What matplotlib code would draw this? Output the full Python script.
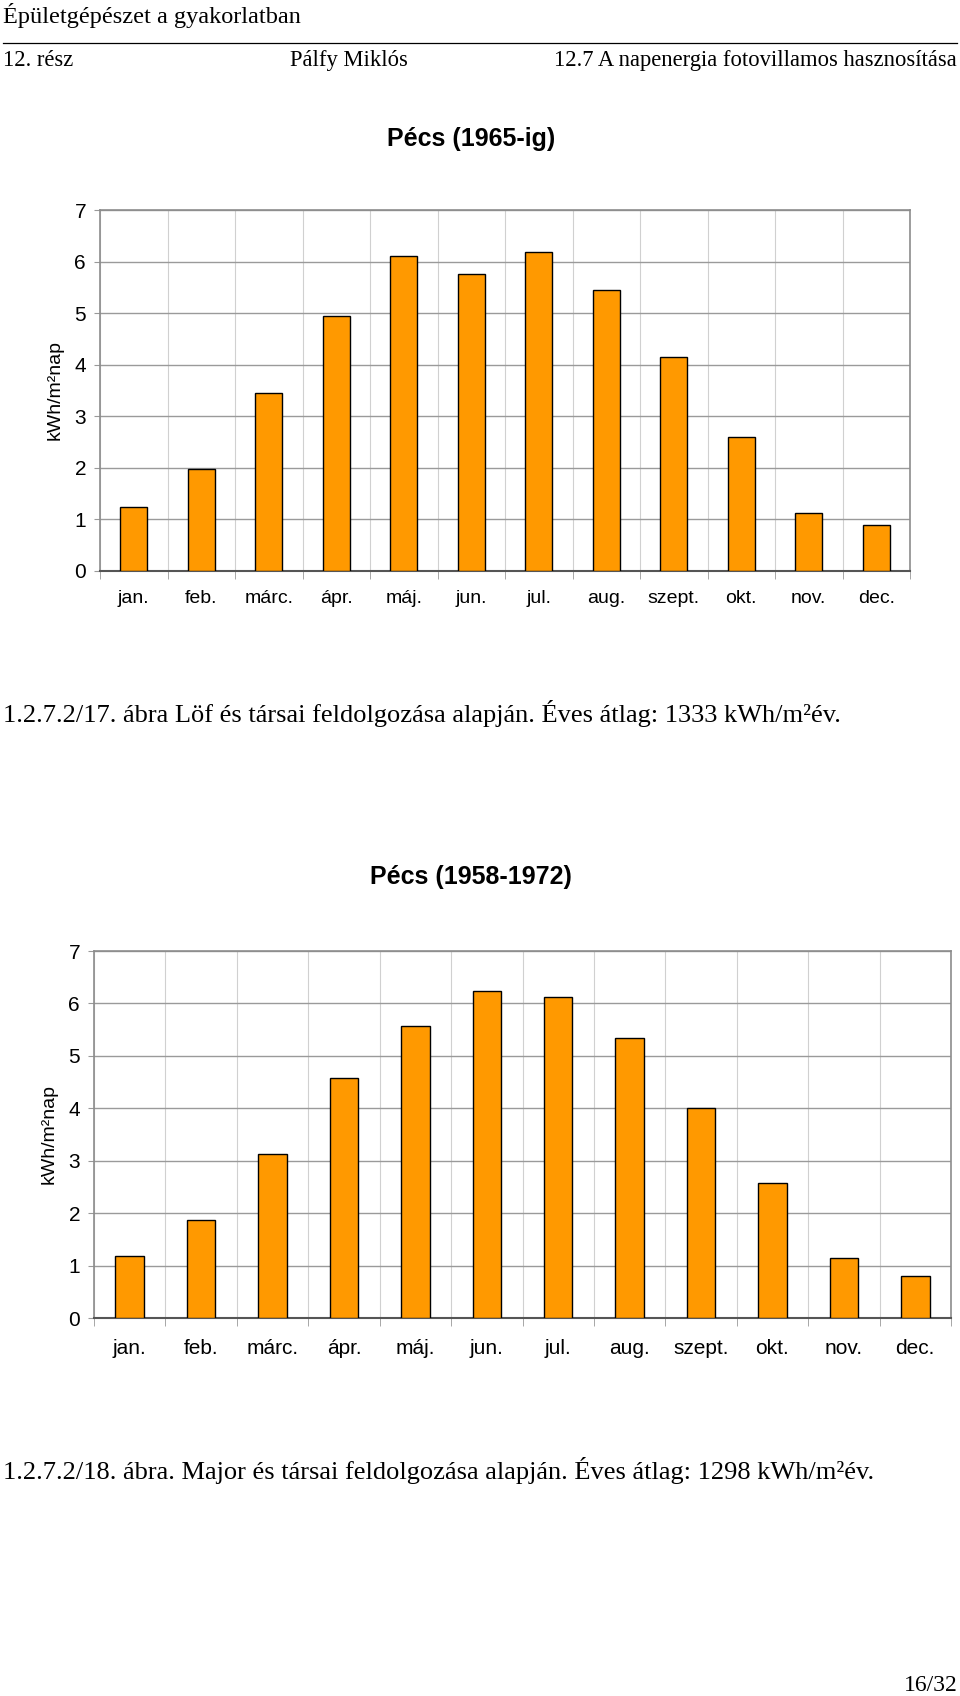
import numpy as np
import matplotlib
matplotlib.use("Agg")
import matplotlib.pyplot as plt

# data (kWh/m2 per day)
months = ["jan.", "feb.", "márc.", "ápr.", "máj.", "jun.", "jul.", "aug.", "szept.", "okt.", "nov.", "dec."]
pecs_1965 = [1.25, 1.98, 3.45, 4.95, 6.11, 5.75, 6.18, 5.45, 4.14, 2.59, 1.12, 0.89]
pecs_1958_1972 = [1.18, 1.87, 3.12, 4.58, 5.57, 6.24, 6.12, 5.35, 4.00, 2.57, 1.14, 0.81]

title1 = "Pécs (1965-ig)"
title2 = "Pécs (1958-1972)"
ylabel = "kWh/m²nap"
caption1 = "1.2.7.2/17. ábra Löf és társai feldolgozása alapján. Éves átlag: 1333 kWh/m²év."
caption2 = "1.2.7.2/18. ábra. Major és társai feldolgozása alapján. Éves átlag: 1298 kWh/m²év."

W, H = 960, 1696
fig = plt.figure(figsize=(W / 100, H / 100), dpi=100)
serif = "Liberation Serif"
sans = "Liberation Sans"


def px(x, y):
    # pixel coords (top-left origin) -> figure fraction
    return x / W, 1 - y / H


# page header (baseline aligned)
fig.text(*px(3, 23), "Épületgépészet a gyakorlatban", family=serif, fontsize=17.5, va="baseline", ha="left")
fig.add_artist(plt.Line2D([3 / W, 957 / W], [1 - 43 / H, 1 - 43 / H], color="black", lw=0.9))
fig.text(*px(3, 66), "12. rész", family=serif, fontsize=16.3, va="baseline", ha="left")
fig.text(*px(349, 66), "Pálfy Miklós", family=serif, fontsize=16.3, va="baseline", ha="center")
fig.text(*px(957, 66), "12.7 A napenergia fotovillamos hasznosítása", family=serif, fontsize=16.3,
         va="baseline", ha="right")


def bar_chart(rect, values, title, title_y, tick_pad, month_size):
    ax = fig.add_axes(rect)
    x = np.arange(len(months))
    ax.bar(x, values, width=0.4, color="#FF9900", edgecolor="black", linewidth=1.0, zorder=3)
    ax.set_xlim(-0.5, len(months) - 0.5)
    ax.set_ylim(0, 7)
    ax.set_yticks(range(0, 8))
    ax.set_xticks(x)
    ax.set_xticklabels(months, family=sans, fontsize=month_size)
    ax.set_xticks(np.arange(-0.5, len(months)), minor=True)
    ax.tick_params(axis="x", which="major", length=0, pad=tick_pad)
    ax.tick_params(axis="x", which="minor", length=6, color="#999999")
    ax.tick_params(axis="y", length=4, color="#999999", pad=6)
    for lab in ax.get_yticklabels():
        lab.set_family(sans)
        lab.set_fontsize(15)
    ax.grid(axis="y", which="major", color="#9a9a9a", lw=1.0, zorder=0)
    ax.grid(axis="x", which="minor", color="#d0d0d0", lw=0.8, zorder=0)
    for s in ["top", "right", "left"]:
        ax.spines[s].set_color("#8c8c8c")
        ax.spines[s].set_linewidth(1.2)
    ax.spines["bottom"].set_color("#555555")
    ax.spines["bottom"].set_linewidth(1.5)
    ax.set_ylabel(ylabel, family=sans, fontsize=14, labelpad=8)
    fig.text(*px(471, title_y), title, family=sans, fontsize=18, fontweight="bold", ha="center", va="center")
    return ax


ax1 = bar_chart([100 / W, 1 - 571 / H, (910 - 100) / W, (571 - 210) / H], pecs_1965, title1, 139, 14, 14)
ax2 = bar_chart([94 / W, 1 - 1318 / H, (951 - 94) / W, (1318 - 951) / H], pecs_1958_1972, title2, 877, 15, 15)

fig.text(*px(3, 722), caption1, family=serif, fontsize=19, va="baseline", ha="left")
fig.text(*px(3, 1479), caption2, family=serif, fontsize=19, va="baseline", ha="left")
fig.text(*px(958, 1691), "16/32", family=serif, fontsize=17, va="baseline", ha="right")

fig.savefig("out.png", dpi=100)
